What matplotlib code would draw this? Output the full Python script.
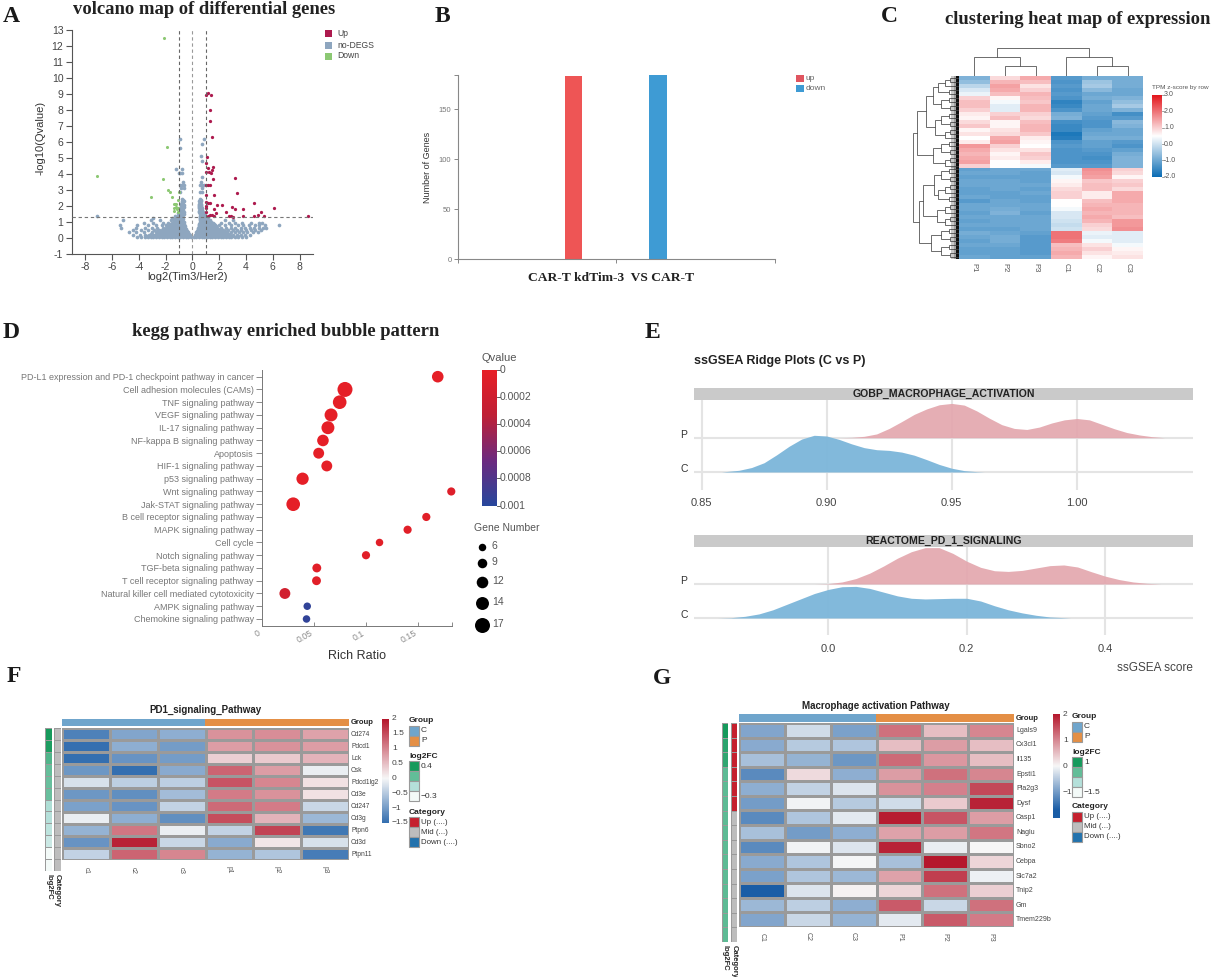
import numpy as np
import matplotlib
matplotlib.use('Agg')
import matplotlib.pyplot as plt
from matplotlib.colors import LinearSegmentedColormap, ListedColormap, TwoSlopeNorm, Normalize
from matplotlib.patches import Rectangle

plt.rcParams['font.family'] = ['Liberation Sans', 'DejaVu Sans']
plt.rcParams['axes.unicode_minus'] = False

W, H = 1217, 977
SERIF = ['Liberation Serif', 'DejaVu Serif']

# A: volcano points, no-DEGs stored as (y level, x values)
nodeg_rows = [
    (0.05, [-4.1, -3.8, -3.55, -3.3, -3.1, -2.9, -2.7, -2.5, -2.3, -2.1, -1.9, -1.7, -1.5, -1.3, -1.1, -0.9, -0.7, -0.5, -0.3, -0.12,
            0.12, 0.3, 0.5, 0.7, 0.9, 1.1, 1.3, 1.5, 1.7, 1.9, 2.1, 2.3, 2.5, 2.7, 2.9, 3.15, 3.4, 3.7, 4.0]),
    (0.12, [-3.4, -3.0, -2.6, -2.4, -2.2, -2.0, -1.8, -1.6, -1.4, -1.2, -1.0, -0.8, -0.6, -0.4, -0.22,
            0.22, 0.4, 0.6, 0.8, 1.0, 1.2, 1.4, 1.6, 1.8, 2.0, 2.2, 2.4, 2.6, 3.0, 3.4]),
    (0.2, [-4.4, -3.9, -3.5, -3.2, -2.95, -2.75, -2.55, -2.35, -2.15, -1.95, -1.75, -1.55, -1.35, -1.15, -0.95, -0.75, -0.55, -0.35, -0.2,
           0.2, 0.35, 0.55, 0.75, 0.95, 1.15, 1.35, 1.55, 1.75, 1.95, 2.15, 2.35, 2.55, 2.8, 3.05, 3.3, 3.6, 3.9, 4.3]),
    (0.28, [-3.1, -2.65, -2.45, -2.25, -2.05, -1.85, -1.65, -1.45, -1.25, -1.05, -0.85, -0.65, -0.45, -0.28,
            0.28, 0.45, 0.65, 0.85, 1.05, 1.25, 1.45, 1.65, 1.85, 2.05, 2.25, 2.45, 2.7]),
    (0.35, [-4.7, -4.2, -3.6, -3.0, -2.7, -2.5, -2.3, -2.1, -1.9, -1.7, -1.5, -1.3, -1.1, -0.9, -0.7, -0.5, -0.3,
            0.3, 0.5, 0.7, 0.9, 1.1, 1.3, 1.5, 1.7, 1.9, 2.1, 2.35, 2.6, 2.9, 3.2, 3.5, 3.8, 4.1, 4.5, 4.9]),
    (0.42, [-2.6, -2.4, -2.2, -2.0, -1.8, -1.6, -1.4, -1.2, -1.0, -0.8, -0.6, -0.4, 0.36, 0.6, 0.8, 1.0, 1.2, 1.4, 1.6, 1.8, 2.0, 2.2, 2.45]),
    (0.5, [-4.4, -3.8, -3.3, -2.85, -2.5, -2.25, -2.05, -1.85, -1.65, -1.45, -1.25, -1.05, -0.85, -0.65, -0.45,
           0.4, 0.6, 0.8, 1.0, 1.2, 1.4, 1.6, 1.8, 2.0, 2.3, 2.65, 3.0, 3.3, 3.65, 4.0, 4.35, 4.7, 5.1]),
    (0.58, [-2.1, -1.9, -1.7, -1.5, -1.3, -1.1, -0.9, -0.7, -0.5, 0.45, 0.7, 0.9, 1.1, 1.3, 1.5, 1.7, 1.9, 2.15]),
    (0.65, [-5.3, -4.2, -3.5, -3.0, -2.6, -2.2, -2.0, -1.8, -1.6, -1.4, -1.2, -1.0, -0.8, -0.55,
            0.45, 0.65, 0.85, 1.05, 1.25, 1.45, 1.65, 1.85, 2.1, 2.5, 2.85, 3.2, 3.6, 3.95, 4.3, 4.6, 4.95, 5.3, 5.5]),
    (0.72, [-1.9, -1.7, -1.5, -1.3, -1.1, -0.9, -0.7, -0.55, 0.5, 0.75, 0.95, 1.15, 1.35, 1.55, 1.75]),
    (0.8, [-5.4, -4.1, -3.3, -2.7, -2.3, -2.0, -1.75, -1.55, -1.35, -1.15, -0.95, -0.75, -0.6,
           0.5, 0.7, 0.9, 1.1, 1.3, 1.5, 1.7, 2.0, 2.4, 2.9, 3.4, 3.8, 4.2, 4.7, 5.0, 5.4, 6.5]),
    (0.88, [-1.65, -1.45, -1.25, -1.05, -0.85, -0.65, 0.5, 0.65, 0.85, 1.05, 1.25, 1.45, 1.6]),
    (0.95, [-3.6, -2.9, -2.2, -1.8, -1.5, -1.3, -1.1, -0.9, -0.7, 0.55, 0.75, 0.95, 1.15, 1.35, 1.55, 2.1, 2.7, 3.2, 3.7, 4.4, 5.0, 5.2]),
    (1.02, [-1.4, -1.2, -1.0, -0.8, -0.65, 0.6, 0.8, 1.0, 1.2, 1.4]),
    (1.1, [-5.2, -3.1, -2.4, -1.6, -1.35, -1.15, -0.95, -0.75, 0.55, 0.75, 0.95, 1.15, 1.3, 2.4, 3.0]),
    (1.18, [-1.3, -1.1, -0.9, -0.7, 0.6, 0.8, 1.0, 1.15]),
    (1.25, [-2.9, -1.5, -1.2, -1.0, -0.8, 0.55, 0.75, 0.9, 1.0]),
    (1.33, [-1.1, -0.9, -0.7, 0.55, 0.75, 0.95]),
    (1.4, [-7.1, -1.3, -1.05, -0.85, 0.55, 0.7, 0.9]),
    (1.48, [-1.0, -0.8, -0.65, 0.55, 0.7, 0.85]),
    (1.55, [-1.05, -0.85, 0.55, 0.75]),
    (1.63, [-0.95, -0.8, -0.65, 0.5, 0.65, 0.8]),
    (1.7, [-0.95, -0.75, 0.5, 0.7]),
    (1.78, [-0.85, -0.7, 0.55, 0.7]),
    (1.85, [-0.9, -0.7, 0.5, 0.7]),
    (1.93, [-0.8, -0.65, 0.5, 0.65]),
    (2.0, [-0.85, -0.7, 0.5, 0.65]),
    (2.08, [-0.75, -0.6, 0.5, 0.65]),
    (2.15, [-0.85, -0.7, 0.5, 0.65]),
    (2.23, [-0.75, 0.55]),
    (2.3, [-0.8, -0.65, 0.5, 0.65]),
    (2.38, [-0.7, 0.55, 0.65]),
    (2.45, [-0.75, 0.55]),
    (2.9, [-0.95, 0.55, 0.75]),
    (3.1, [-0.85, -0.65, 0.75]),
    (3.3, [-0.9, -0.75, -0.6, 0.6, 0.7, 0.9]),
    (3.5, [-0.7, 0.65]),
    (3.8, [0.7]),
    (4.05, [-1.0, -0.95, -0.8]),
    (4.3, [-1.25, -0.75]),
    (4.8, [0.7]),
    (5.15, [0.65]),
    (5.6, [-0.95]),
    (5.85, [0.75]),
    (6.2, [-0.95, 0.85]),
]
up_x = [1.0, 1.15, 1.4, 1.35, 1.3, 1.5, 1.1, 1.0, 1.2, 1.55, 1.45, 1.05, 1.4, 1.25, 1.55, 3.15, 1.15, 1.3, 1.0, 3.35, 1.6, 1.05, 1.0, 1.2, 1.3,
        4.6, 1.85, 2.2, 1.05, 1.0, 1.6, 2.95, 3.15, 3.8, 6.1, 5.15, 1.05, 1.8, 2.5, 4.9, 4.6, 5.35, 1.35, 1.5, 1.65, 1.2, 2.75, 2.9, 3.0, 3.8, 8.6]
up_y = [8.95, 9.05, 8.95, 8.0, 7.3, 6.3, 5.05, 4.7, 4.4, 4.45, 4.25, 4.15, 4.05, 4.1, 3.7, 3.75, 3.3, 3.3, 3.3, 2.8, 2.7, 2.7, 2.25, 2.2, 2.2,
        2.2, 2.05, 2.05, 2.0, 1.85, 1.8, 1.95, 1.8, 1.8, 1.9, 1.65, 1.6, 1.55, 1.6, 1.45, 1.4, 1.35, 1.45, 1.45, 1.35, 1.4, 1.35, 1.35, 1.3, 1.35, 1.35]
down_x = [-2.15, -1.9, -7.1, -2.2, -3.1, -1.8, -1.7, -1.55, -1.4, -1.4, -1.3, -1.25, -1.2, -1.15, -1.05, -1.1, -1.05, -1.35, -1.02]
down_y = [12.5, 5.7, 3.85, 3.7, 2.55, 3.0, 2.85, 2.55, 2.1, 1.9, 2.1, 1.95, 2.1, 1.8, 2.4, 1.9, 1.6, 1.7, 2.9]

# B: gene counts
bar_labels = ['up', 'down']
bar_values = [183, 185]

# C: z-scores by row
expr_samples = ['P1', 'P2', 'P3', 'C1', 'C2', 'C3']
expr_z = [
    [-0.8, 0.9, 1.4, -1.2, -0.9, -0.9], [-0.6, 1.3, 1.2, -1.3, -0.5, -0.9], [-0.2, 1.5, 0.8, -1.2, -0.4, -0.9],
    [0.1, 1.4, 1.0, -1.3, -0.7, -1.0], [0.3, 1.2, 1.3, -1.2, -1.0, -1.0], [1.0, 0.6, 1.2, -1.3, -0.9, -0.8],
    [1.2, 0.4, 1.1, -1.6, -1.1, -0.6], [1.2, 0.2, 1.3, -1.5, -1.0, -0.4], [1.0, 0.2, 1.3, -1.3, -1.0, -0.8],
    [0.7, 1.0, 1.0, -0.9, -1.1, -1.4], [0.6, 1.2, 0.9, -0.8, -1.2, -1.2], [0.9, 0.6, 1.2, -1.4, -1.3, -0.7],
    [1.1, 0.6, 1.3, -1.5, -1.3, -0.8], [0.6, 0.8, 1.3, -1.5, -1.1, -1.0], [0.8, 0.9, 1.1, -1.8, -1.0, -1.0],
    [0.5, 1.4, 0.7, -1.7, -0.9, -0.9], [0.7, 1.5, 0.6, -1.3, -1.1, -1.2], [1.6, 1.0, 0.5, -1.2, -1.1, -1.3],
    [1.4, 0.8, 0.8, -1.3, -1.2, -1.1], [1.3, 0.6, 1.1, -1.3, -1.3, -0.9], [1.4, 0.7, 1.0, -1.3, -1.4, -0.8],
    [1.5, 0.5, 0.7, -1.3, -1.3, -0.8], [1.0, 0.5, 0.4, -1.2, -1.2, -0.8],
    [-1.1, -1.0, -1.0, 0.2, 1.7, 1.0], [-1.0, -1.0, -1.1, 0.1, 1.6, 0.9], [-1.1, -1.1, -1.1, 0.4, 1.5, 0.6],
    [-1.0, -1.0, -1.1, 0.6, 1.1, 1.0], [-1.0, -1.0, -1.0, 0.7, 1.2, 1.1], [-1.1, -1.0, -1.1, 0.9, 1.2, 0.9],
    [-1.1, -1.1, -1.0, 1.0, 0.7, 1.4], [-1.0, -1.1, -1.1, 1.0, 0.7, 1.4], [-1.2, -1.0, -1.1, 0.5, 1.2, 1.4],
    [-1.0, -1.0, -1.0, 0.5, 1.3, 1.3], [-1.0, -0.9, -1.0, 0.4, 1.4, 1.3], [-1.1, -0.8, -1.1, 0.1, 1.3, 1.3],
    [-1.0, -1.0, -1.0, 0.1, 1.4, 1.2], [-1.1, -1.0, -1.0, 0.0, 1.3, 1.6], [-1.0, -1.0, -1.0, -0.1, 1.0, 1.6],
    [-1.1, -1.1, -1.0, 0.0, 0.9, 1.7], [-0.9, -1.0, -1.1, 2.0, 0.3, 0.2], [-1.0, -0.9, -1.2, 2.0, 0.2, 0.2],
    [-1.1, -0.9, -1.2, 1.9, 0.4, 0.2], [-1.0, -1.0, -1.2, 1.2, 0.8, 0.4], [-1.1, -1.1, -1.2, 1.3, 1.0, 0.6],
    [-1.1, -1.1, -1.2, 1.4, 0.8, 0.7], [-1.0, -1.1, -1.1, 1.3, 0.6, 0.8],
]
# dendrograms as (height, left, right), 0 is a leaf
s3 = (42, (26, 0, 0), 0)
s4 = (54, (30, 0, 0), (27, 0, 0))
s5 = (62, s3, (30, 0, 0))
row_tree = (140,
            (128, (100, (78, s5, s4), (72, s4, s3)), (80, s4, s3)),
            (120, (108, (76, s4, s5), (66, s3, s3)), (86, s4, s4)))
col_tree = (84, (56, 0, (29, 0, 0)), (56, 0, (29, 0, 0)))

# D: KEGG enrichment
kegg_terms = ['PD-L1 expression and PD-1 checkpoint pathway in cancer', 'Cell adhesion molecules (CAMs)', 'TNF signaling pathway',
              'VEGF signaling pathway', 'IL-17 signaling pathway', 'NF-kappa B signaling pathway', 'Apoptosis', 'HIF-1 signaling pathway',
              'p53 signaling pathway', 'Wnt signaling pathway', 'Jak-STAT signaling pathway', 'B cell receptor signaling pathway',
              'MAPK signaling pathway', 'Cell cycle', 'Notch signaling pathway', 'TGF-beta signaling pathway',
              'T cell receptor signaling pathway', 'Natural killer cell mediated cytotoxicity', 'AMPK signaling pathway', 'Chemokine signaling pathway']
kegg_ratio = [0.169, 0.0798, 0.0747, 0.0664, 0.0634, 0.0586, 0.0545, 0.0623, 0.039, 0.182, 0.030, 0.158, 0.14, 0.113, 0.10, 0.0527, 0.0524, 0.022, 0.0435, 0.0428]
kegg_genes = [12, 17, 15, 14, 14, 12, 11, 11, 13, 7, 15, 7, 7, 6, 7, 8, 8, 11, 6, 6]
kegg_q = [0.00002, 0.00002, 0.00002, 0.00002, 0.00002, 0.00002, 0.00002, 0.00002, 0.00002, 0.00008, 0.00002, 0.00005, 0.00005, 0.00005,
          0.00005, 0.00005, 0.00005, 0.00018, 0.00095, 0.00095]
gene_legend = [6, 9, 12, 14, 17]

# E: ridge densities
mac_p_x = [0.905, 0.91, 0.915, 0.92, 0.925, 0.93, 0.935, 0.94, 0.945, 0.95, 0.955, 0.96, 0.965, 0.97, 0.975, 0.98, 0.985, 0.99, 0.995, 1.0, 1.005, 1.01, 1.015, 1.02, 1.025, 1.03, 1.035]
mac_p_y = [0, 0.01, 0.04, 0.11, 0.27, 0.47, 0.68, 0.84, 0.96, 1.0, 0.95, 0.78, 0.57, 0.38, 0.27, 0.24, 0.31, 0.43, 0.52, 0.56, 0.52, 0.39, 0.26, 0.15, 0.08, 0.03, 0]
mac_c_x = [0.858, 0.865, 0.87, 0.875, 0.88, 0.885, 0.89, 0.895, 0.9, 0.905, 0.91, 0.915, 0.92, 0.925, 0.93, 0.935, 0.94, 0.945, 0.95, 0.955, 0.96, 0.963]
mac_c_y = [0, 0.05, 0.13, 0.27, 0.5, 0.75, 0.96, 1.07, 1.05, 0.95, 0.82, 0.71, 0.65, 0.63, 0.58, 0.49, 0.36, 0.22, 0.11, 0.04, 0.01, 0]
pd1_p_x = [-0.02, 0, 0.02, 0.04, 0.06, 0.08, 0.1, 0.12, 0.14, 0.16, 0.18, 0.2, 0.22, 0.24, 0.26, 0.28, 0.3, 0.32, 0.34, 0.36, 0.38, 0.4, 0.42, 0.44, 0.46, 0.48]
pd1_p_y = [0, 0.01, 0.06, 0.16, 0.32, 0.53, 0.76, 0.95, 1.07, 1.07, 0.9, 0.67, 0.49, 0.39, 0.37, 0.4, 0.47, 0.54, 0.56, 0.5, 0.36, 0.23, 0.13, 0.06, 0.02, 0]
pd1_c_x = [-0.16, -0.14, -0.12, -0.1, -0.08, -0.06, -0.04, -0.02, 0, 0.02, 0.04, 0.06, 0.08, 0.1, 0.12, 0.14, 0.16, 0.18, 0.2, 0.22, 0.24, 0.26, 0.28, 0.3, 0.32, 0.34, 0.35]
pd1_c_y = [0, 0.01, 0.05, 0.12, 0.24, 0.4, 0.56, 0.72, 0.84, 0.92, 0.93, 0.87, 0.76, 0.65, 0.58, 0.56, 0.57, 0.58, 0.58, 0.5, 0.36, 0.24, 0.15, 0.08, 0.03, 0.01, 0]

# F: PD1 pathway heat map
pd1_genes = ['Cd274', 'Pdcd1', 'Lck', 'Csk', 'Pdcd1lg2', 'Cd3e', 'Cd247', 'Cd3g', 'Ptpn6', 'Cd3d', 'Ptpn11']
pd1_samples = ['c1', 'c2', 'c3', 'p1', 'p2', 'p3']
pd1_z = [
    [-1.3, -0.9, -0.8, 0.9, 0.95, 0.75], [-1.5, -0.8, -1.0, 0.8, 0.9, 0.8], [-1.5, -1.1, -1.0, 0.35, 0.4, 0.6],
    [-1.05, -1.5, -0.85, 1.3, 0.8, -0.1], [-0.25, -0.45, -0.45, 1.45, 1.0, 0.2], [-1.05, -1.15, -0.65, 1.1, 0.9, 0.2],
    [-0.95, -1.1, -0.4, 1.25, 1.1, -0.35], [-0.1, -0.8, -1.15, 1.5, 0.6, -0.7], [-0.75, 1.15, -0.1, -0.4, 1.6, -1.4],
    [-1.1, 1.9, -0.35, -0.85, 0.15, -0.25], [-0.4, 1.3, 1.0, -0.75, -0.55, -1.35],
]
pd1_fc = [0.4, 0.38, 0.22, 0.16, 0.15, 0.15, -0.05, -0.07, -0.1, -0.15, -0.3, -0.3]
pd1_cat = [1] * 12
pd1_cbar_ticks = [2, 1.5, 1, 0.5, 0, -0.5, -1, -1.5]

# G: macrophage activation heat map
mac_genes = ['Lgals9', 'Cx3cl1', 'Il135', 'Epsti1', 'Pla2g3', 'Dysf', 'Casp1', 'Naglu', 'Sbno2', 'Cebpa', 'Slc7a2', 'Tnip2', 'Gm', 'Tmem229b']
mac_samples = ['C1', 'C2', 'C3', 'P1', 'P2', 'P3']
mac_z = [
    [-0.9, -0.3, -0.95, 1.2, 0.5, 1.0], [-0.85, -0.5, -0.55, 0.5, 0.8, 0.5], [-0.6, -0.75, -1.05, 1.25, 0.85, 0.5],
    [-1.2, 0.25, -0.8, 0.8, 1.2, 1.0], [-0.8, -0.4, -0.2, 0.9, 1.05, 1.55], [-1.0, -0.05, -0.5, -0.3, 0.4, 1.9],
    [-1.2, -0.55, -0.15, 1.95, 1.45, 0.8], [-0.6, -1.0, -0.8, 0.75, 0.8, 1.15], [-1.2, -0.05, -0.2, 1.9, -0.1, 0.0],
    [-0.85, -0.55, -0.02, -0.6, 2.0, 0.3], [-0.95, -0.55, -0.7, 0.75, 1.65, -0.07], [-1.7, -0.2, 0.05, 0.3, 1.2, 0.35],
    [-0.7, -0.45, -0.8, 1.4, -0.35, 1.2], [-0.9, -0.35, -0.75, -0.15, 1.4, 1.1],
]
mac_fc = [1.0, 0.75, 0.7, 0.2, 0.2, 0.2, 0.2, 0.2, 0.2, 0.2, 0.2, 0.2, 0.2, 0.2, 0.2]
mac_cat = [0, 0, 0, 0, 0, 0, 1, 1, 1, 1, 1, 1, 1, 1, 1]
mac_cbar_ticks = [2, 1, 0, -1]

GROUP_COLS = ['#6fa5cc', '#e48f45']
CAT_COLS = ['#c5202e', '#bdbdbd', '#2272ad']
FC_COLS = ['#f3faf8', '#b4e0da', '#62bd98', '#169a5c']
GRID_GRAY = '#9a9a9a'

fig = plt.figure(figsize=(W / 100, H / 100), dpi=100)


def px_axes(left, top, right, bottom):
    ax = fig.add_axes([left / W, 1 - bottom / H, (right - left) / W, (bottom - top) / H])
    return ax


# full figure layer in pixel coordinates for labels and legends
ov = fig.add_axes([0, 0, 1, 1], zorder=10)
ov.set_xlim(0, W)
ov.set_ylim(H, 0)
ov.axis('off')
ov.patch.set_alpha(0)


def label(x, y, s, size=6, color='#333333', ha='left', va='center', **kw):
    ov.text(x, y, s, fontsize=size, color=color, ha=ha, va=va, **kw)


def swatch(x0, y0, x1, y1, color, edge='none', lw=0.8):
    ov.add_patch(Rectangle((x0, y0), x1 - x0, y1 - y0, facecolor=color, edgecolor=edge, linewidth=lw))


def draw_tree(ax, node, leaves, vertical):
    # returns leaf position and height of the node, drawing its links
    if node == 0:
        return next(leaves) + 0.5, 0
    h, left, right = node
    pl, hl = draw_tree(ax, left, leaves, vertical)
    pr, hr = draw_tree(ax, right, leaves, vertical)
    pos = [pl, pl, pr, pr]
    hgt = [hl, h, h, hr]
    if vertical:
        ax.plot(pos, hgt, color='#555555', lw=0.6, solid_joinstyle='miter')
    else:
        ax.plot(hgt, pos, color='#555555', lw=0.6, solid_joinstyle='miter')
    return (pl + pr) / 2, h


def gradient_bar(left, top, right, bottom, cmap, norm, top_val, bottom_val):
    ax = px_axes(left, top, right, bottom)
    ax.imshow(np.linspace(top_val, bottom_val, 256)[:, None], aspect='auto', cmap=cmap, norm=norm)
    ax.axis('off')
    return ax


# A volcano map
ax = px_axes(71.7, 30, 313, 254)
ndx = [x for y, xs in nodeg_rows for x in xs]
ndy = [y for y, xs in nodeg_rows for x in xs]
ax.scatter(ndx, ndy, s=7, c='#8ea6bf', marker='o', linewidths=0, zorder=2)
ax.scatter(down_x, down_y, s=5, c='#8cc873', marker='o', linewidths=0, zorder=3)
ax.scatter(up_x, up_y, s=5.5, c='#ad1a4e', marker='o', linewidths=0, zorder=3)
for xv, col in [(-1, '#666666'), (0, '#999999'), (1, '#666666')]:
    ax.axvline(xv, color=col, lw=0.8, dashes=(3, 2.5), zorder=4)
ax.axhline(1.3, color='#777777', lw=0.8, dashes=(3, 2.5), zorder=4)
ax.set_xlim(-9, 9)
ax.set_ylim(-1, 13)
ax.set_xticks(range(-8, 9, 2))
ax.set_yticks(range(-1, 14))
ax.tick_params(labelsize=7.5, labelcolor='#444444', color='#555555', length=4, width=0.8, pad=2)
for side in ['top', 'right']:
    ax.spines[side].set_visible(False)
for side in ['left', 'bottom']:
    ax.spines[side].set_color('#555555')
label(188, 277.5, 'log2(Tim3/Her2)', size=8, ha='center')
label(41, 138, '-log10(Qvalue)', size=8, ha='center', rotation=90)
for yy, col, txt in [(33, '#ad1a4e', 'Up'), (45, '#8ea6bf', 'no-DEGS'), (56, '#8cc873', 'Down')]:
    swatch(325, yy - 3.5, 332, yy + 3.5, col)
    label(337, yy, txt, size=6.2, color='#444444')

# B bar chart
ax = px_axes(457.7, 75, 775, 259.3)
ax.bar([0, 1], bar_values, width=0.206, color=['#ee5555', '#3e9bd4'])
ax.set_xlim(-1.374, 2.39)
ax.set_ylim(0, 184.3)
ax.set_yticks([0, 50, 100, 150, 184.3])
ax.set_yticklabels(['0', '50', '100', '150', ''])
ax.set_xticks([0.5, -1.374, 2.39])
ax.set_xticklabels(['', '', ''])
ax.tick_params(labelsize=5.5, labelcolor='#777777', color='#888888', length=3, width=0.7, pad=1.5)
for side in ['top', 'right']:
    ax.spines[side].set_visible(False)
for side in ['left', 'bottom']:
    ax.spines[side].set_color('#888888')
label(428, 167, 'Number of Genes', size=6.5, ha='center', rotation=90)
label(611, 278, 'CAR-T kdTim-3  VS CAR-T', size=9.7, color='#222222', ha='center', family=SERIF, weight='bold')
swatch(796, 75, 804, 82, '#e05560')
swatch(796, 85, 804, 92, '#3e9bd4')
label(806, 78.5, bar_labels[0], size=6, color='#666666')
label(806, 88.5, bar_labels[1], size=6, color='#666666')

# C clustered heat map
expr_cmap = LinearSegmentedColormap.from_list('expr', ['#0a6cb4', '#ffffff', '#e3161c'])
expr_norm = TwoSlopeNorm(vmin=-2, vcenter=0.5, vmax=3)
expr_arr = np.array(expr_z)
ax = px_axes(959, 76, 1143, 259)
ax.pcolormesh(expr_arr, cmap=expr_cmap, norm=expr_norm)
ax.set_ylim(len(expr_arr), 0)
ax.axis('off')
ax = px_axes(959, 48, 1143, 76)
draw_tree(ax, col_tree, iter(range(6)), True)
ax.set_xlim(0, 6)
ax.set_ylim(0, 84)
ax.axis('off')
ax = px_axes(912.7, 76, 959, 259)
draw_tree(ax, row_tree, iter(range(len(expr_arr))), False)
ax.set_xlim(140, 0)
ax.set_ylim(len(expr_arr), 0)
# finely packed leaves next to the matrix
fine_rows = np.linspace(0, len(expr_arr), 185)
ax.hlines(fine_rows, 0, [24 if i % 2 else 14 for i in range(len(fine_rows))], color='#222222', lw=0.35)
ax.add_patch(Rectangle((0, 0), 9, len(expr_arr), color='black', lw=0))
ax.axis('off')
for i, name in enumerate(expr_samples):
    label(959 + (i + 0.5) * 184 / 6, 268, name, size=5.5, color='#555555', ha='center', rotation=270)
cax = gradient_bar(1152, 95, 1161.7, 176.7, expr_cmap, expr_norm, 3, -2)
label(1152, 87, 'TPM z-score by row', size=4.6, color='#555555')
for val, txt in [(3, '3.0'), (2, '2.0'), (1, '1.0'), (0, '0.0'), (-1, '-1.0'), (-2, '-2.0')]:
    yy = 176.7 - (val + 2) / 5 * 81.7
    ov.plot([1161.7, 1163.5], [yy, yy], color='#777777', lw=0.5)
    label(1164, yy, txt, size=5, color='#555555')

# D KEGG bubble plot
q_cmap = LinearSegmentedColormap.from_list('qv', ['#e71f26', '#bf2036', '#6c2a80', '#27479c'])
q_norm = Normalize(0, 0.001)


def gene_area(n):
    # bubble area from gene count, 6 genes is 7.5 px across and 17 genes is 15 px
    return (np.interp(n, [6, 17], [7.5, 15]) * 0.72) ** 2


ax = px_axes(262, 370, 452, 626)
ax.scatter(kegg_ratio, range(len(kegg_terms)), s=gene_area(np.array(kegg_genes)), c=kegg_q, cmap=q_cmap, norm=q_norm, linewidths=0, clip_on=False)
ax.set_xlim(0, 0.1827)
ax.set_ylim(19.55, -0.525)
ax.set_yticks(range(len(kegg_terms)))
ax.set_yticklabels(kegg_terms)
ax.set_xticks([0, 0.05, 0.1, 0.15, 0.1827])
ax.set_xticklabels(['0', '0.05', '0.1', '0.15', ''], rotation=30, ha='right')
ax.tick_params(axis='y', labelsize=6.5, labelcolor='#777777', color='#777777', length=4, width=0.6, pad=2)
ax.tick_params(axis='x', labelsize=6.3, labelcolor='#888888', color='#777777', length=3, width=0.6, pad=2, direction='in')
for side in ['top', 'right']:
    ax.spines[side].set_visible(False)
for side in ['left', 'bottom']:
    ax.spines[side].set_color('#777777')
    ax.spines[side].set_linewidth(0.7)
label(357, 656, 'Rich Ratio', size=9, ha='center')
cax = gradient_bar(482, 370, 497, 505.6, q_cmap, q_norm, 0, 0.001)
label(482, 358, 'Qvalue', size=8, color='#555555')
for val, txt in [(0, '0'), (0.0002, '0.0002'), (0.0004, '0.0004'), (0.0006, '0.0006'), (0.0008, '0.0008'), (0.001, '0.001')]:
    yy = 370 + val / 0.001 * 135.6
    ov.plot([497, 499.5], [yy, yy], color='#444444', lw=0.6)
    label(500, yy, txt, size=7.5, color='#555555')
label(474, 528, 'Gene Number', size=7.5, color='#555555')
for yy, n in zip([546.7, 563, 582, 603, 625], gene_legend):
    ov.scatter([481.5], [yy], s=gene_area(n), c='black', linewidths=0)
    label(492, yy - 1, str(n), size=7.5, color='#555555')

# E ridge plots
ridge_panels = [
    (400, 490, 437.7, 472, 0.847, 1.0464, [0.85, 0.90, 0.95, 1.00], ['0.85', '0.90', '0.95', '1.00'], mac_p_x, mac_p_y, mac_c_x, mac_c_y, 'GOBP_MACROPHAGE_ACTIVATION', 503),
    (547, 635, 584, 618, -0.1937, 0.5265, [0.0, 0.2, 0.4], ['0.0', '0.2', '0.4'], pd1_p_x, pd1_p_y, pd1_c_x, pd1_c_y, 'REACTOME_PD_1_SIGNALING', 649),
]
for top, bottom, base_p, base_c, xmin, xmax, ticks, ticktext, px_, py_, cx_, cy_, name, tick_y in ridge_panels:
    gap = base_c - base_p
    ax = px_axes(694, top, 1193, bottom)
    ax.set_xlim(xmin, xmax)
    ax.set_ylim((base_c - bottom) / gap, (base_c - top) / gap)
    for t in ticks:
        ax.axvline(t, color='#e4e4e4', lw=1.5, zorder=1)
    ax.axhline(1, color='#e4e4e4', lw=1.5, zorder=1)
    ax.axhline(0, color='#e4e4e4', lw=1.5, zorder=1)
    ax.fill_between(px_, 1, 1 + np.array(py_), color='#e3a7ae', alpha=0.92, lw=0, zorder=2)
    ax.fill_between(cx_, 0, cy_, color='#7eb7da', alpha=0.97, lw=0, zorder=3)
    ax.axis('off')
    for t, s in zip(ticks, ticktext):
        label(694 + (t - xmin) / (xmax - xmin) * 499, tick_y, s, size=8, color='#444444', ha='center')
    swatch(694, top - 12, 1193, top, '#cacaca')
    label(943.5, top - 6, name, size=7.6, color='#222222', ha='center', weight='bold')
    label(684, base_p - 3, 'P', size=7.5, color='#333333', ha='center')
    label(684, base_c - 3, 'C', size=7.5, color='#333333', ha='center')
label(694, 361, 'ssGSEA Ridge Plots (C vs P)', size=9, color='#222222', weight='bold')
label(1193, 668, 'ssGSEA score', size=8.5, color='#444444', ha='right')

# F and G annotated heat maps
heat_cmap = LinearSegmentedColormap.from_list('heat', ['#1a5da6', '#f7f7f7', '#b5172c'])
heat_norm = TwoSlopeNorm(vmin=-1.7, vcenter=0, vmax=2)
fc_cmap = LinearSegmentedColormap.from_list('fc', FC_COLS)


def annotated_heat(z, genes, samples, fc, fc_range, cats, left, right, top, bottom, bar_top, bar_bottom, fc_x, cat_x, anno_bottom, name_size):
    z = np.array(z)
    ax = px_axes(left, top, right, bottom)
    ax.pcolormesh(z, cmap=heat_cmap, norm=heat_norm, edgecolors=GRID_GRAY, linewidth=1.0)
    ax.set_ylim(len(z), 0)
    ax.axis('off')
    bar = px_axes(left, bar_top, right, bar_bottom)
    bar.imshow([[0, 0, 0, 1, 1, 1]], aspect='auto', cmap=ListedColormap(GROUP_COLS), interpolation='nearest')
    bar.axis('off')
    fcax = px_axes(fc_x[0], top, fc_x[1], anno_bottom)
    fcax.pcolormesh(np.array(fc)[:, None], cmap=fc_cmap, norm=Normalize(*fc_range), edgecolors=GRID_GRAY, linewidth=0.6)
    fcax.set_ylim(len(fc), 0)
    fcax.axis('off')
    catax = px_axes(cat_x[0], top, cat_x[1], anno_bottom)
    catax.pcolormesh(np.array(cats)[:, None], cmap=ListedColormap(CAT_COLS), vmin=0, vmax=2, edgecolors=GRID_GRAY, linewidth=0.6)
    catax.set_ylim(len(cats), 0)
    catax.axis('off')
    rh = (bottom - top) / len(z)
    cw = (right - left) / 6
    for i, g in enumerate(genes):
        label(right + 2, top + (i + 0.5) * rh, g, size=name_size, color='#444444')
    label(right + 2, (bar_top + bar_bottom) / 2, 'Group', size=5.5, color='#222222', weight='bold')
    for i, s in enumerate(samples):
        label(left + (i + 0.5) * cw, bottom + 10, s, size=name_size, color='#555555', ha='center', rotation=270)
    label(sum(fc_x) / 2, anno_bottom + 3, 'log2FC', size=5.5, color='#222222', ha='center', va='top', rotation=270, weight='bold')
    label(sum(cat_x) / 2, anno_bottom + 3, 'Category', size=5.5, color='#222222', ha='center', va='top', rotation=270, weight='bold')


def anno_legend(x, group_y, fc_y, fc_labels, cat_y, size):
    label(x, group_y, 'Group', size=size, color='#222222', weight='bold')
    swatch(x, group_y + 5, x + 10, group_y + 15, GROUP_COLS[0], GRID_GRAY)
    swatch(x, group_y + 15, x + 10, group_y + 25, GROUP_COLS[1], GRID_GRAY)
    label(x + 12, group_y + 10, 'C', size=size, color='#333333')
    label(x + 12, group_y + 20, 'P', size=size, color='#333333')
    label(x, fc_y, 'log2FC', size=size, color='#222222', weight='bold')
    for k, col in enumerate(FC_COLS[::-1]):
        swatch(x, fc_y + 5 + k * 10, x + 10, fc_y + 15 + k * 10, col, GRID_GRAY)
    label(x + 12, fc_y + 10, fc_labels[0], size=size, color='#333333')
    label(x + 12, fc_y + 40, fc_labels[1], size=size, color='#333333')
    label(x, cat_y, 'Category', size=size, color='#222222', weight='bold')
    for k, (col, txt) in enumerate(zip(CAT_COLS, ['Up (....)', 'Mid (...)', 'Down (....)'])):
        swatch(x, cat_y + 5 + k * 10, x + 10, cat_y + 15 + k * 10, col, GRID_GRAY)
        label(x + 12, cat_y + 10 + k * 10, txt, size=size - 0.3, color='#333333')


annotated_heat(pd1_z, pd1_genes, pd1_samples, pd1_fc, (-0.3, 0.4), pd1_cat, 62, 349, 728, 860, 719, 726, (45, 52), (54, 61), 871, 4.8)
label(205, 710, 'PD1_signaling_Pathway', size=7, color='#222222', ha='center', weight='bold')
gradient_bar(382, 719, 389, 823, heat_cmap, heat_norm, 2, -1.5)
for val in pd1_cbar_ticks:
    txt = f'{val:g}'.replace('-', '\u2212')
    label(392, 823 - (val + 1.5) / 3.5 * 104, txt, size=6, color='#444444')
anno_legend(409, 721, 756, ['0.4', '\u22120.3'], 812, 6)

annotated_heat(mac_z, mac_genes, mac_samples, mac_fc, (-1.5, 1), mac_cat, 739, 1014, 723, 927, 714, 722, (722, 728), (731, 737), 942, 5.0)
label(876, 706, 'Macrophage activation Pathway', size=7, color='#222222', ha='center', weight='bold')
gradient_bar(1053, 714, 1060, 818, heat_cmap, heat_norm, 2, -2)
for val in mac_cbar_ticks:
    txt = f'{val:g}'.replace('-', '\u2212')
    label(1063, 715 + (2 - val) * 26, txt, size=6, color='#444444')
anno_legend(1072, 717, 752, ['1', '\u22121.5'], 807, 6)

# panel letters and serif titles
for x, y, s in [(3, 16, 'A'), (435, 16, 'B'), (881, 16, 'C'), (3, 333, 'D'), (645, 333, 'E'), (7, 677, 'F'), (653, 679, 'G')]:
    label(x, y, s, size=17, color='#1a1a1a', family=SERIF, weight='bold')
label(73, 9, 'volcano map of differential genes', size=13.4, color='#222222', family=SERIF, weight='bold')
label(945, 19, 'clustering heat map of expression', size=13.4, color='#222222', family=SERIF, weight='bold')
label(132, 332, 'kegg pathway enriched bubble pattern', size=13.4, color='#222222', family=SERIF, weight='bold')

fig.savefig('out.png', dpi=100, facecolor='white')
